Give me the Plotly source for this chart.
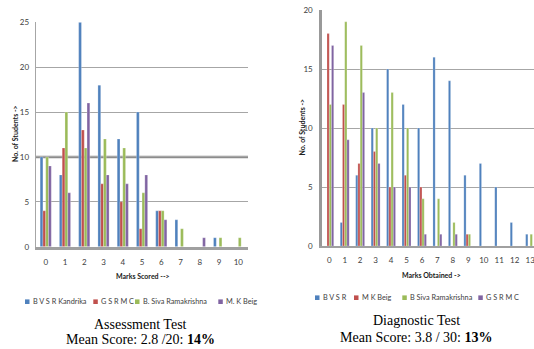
import plotly.graph_objects as go

# ---------------- data ----------------
marks_assess = [str(i) for i in range(11)]
assess_series = ["B V S R Kandrika", "G S R M C", "B. Siva Ramakrishna", "M. K Beig"]
assess_bvsr = [10, 8, 25, 18, 12, 15, 4, 3, 0, 1, 0]
assess_gsrmc = [4, 11, 13, 7, 5, 2, 4, 0, 0, 0, 0]
assess_siva = [10, 15, 11, 12, 11, 6, 4, 2, 0, 1, 1]
assess_beig = [9, 6, 16, 8, 7, 8, 3, 0, 1, 0, 0]

marks_diag = [str(i) for i in range(14)]
diag_series = ["B V S R", "M K Beig", "B Siva Ramakrishna", "G S R M C"]
diag_bvsr = [0, 2, 6, 10, 15, 12, 10, 16, 14, 6, 7, 5, 2, 1]
diag_beig = [18, 12, 7, 8, 5, 6, 5, 0, 0, 1, 0, 0, 0, 0]
diag_siva = [12, 19, 17, 10, 13, 10, 4, 4, 2, 1, 0, 0, 0, 1]
diag_gsrmc = [17, 9, 13, 7, 5, 5, 1, 1, 1, 0, 0, 0, 0, 0]

colors = ["#4F81BD", "#C0504D", "#9BBB59", "#8064A2"]

W, H = 534, 349
def px(x):
    return x / W
def py(y):
    return 1 - y / H

fig = go.Figure()
for name, vals, c in zip(assess_series, [assess_bvsr, assess_gsrmc, assess_siva, assess_beig], colors):
    fig.add_trace(go.Bar(x=marks_assess, y=vals, name=name, marker=dict(color=c, line=dict(width=0.4, color="rgba(255,255,255,0.6)")),
                         xaxis="x", yaxis="y", showlegend=False))
for name, vals, c in zip(diag_series, [diag_bvsr, diag_beig, diag_siva, diag_gsrmc], colors):
    fig.add_trace(go.Bar(x=marks_diag, y=vals, name=name, marker=dict(color=c, line=dict(width=0.4, color="rgba(255,255,255,0.6)")),
                         xaxis="x2", yaxis="y2", showlegend=False))

tickfont = dict(family="Lato, Liberation Sans, sans-serif", size=8, color="#404040")
grid = "#A6A6A6"

fig.update_layout(
    width=W, height=H, margin=dict(l=0, r=0, t=0, b=0, autoexpand=False),
    paper_bgcolor="white", plot_bgcolor="white", showlegend=False,
    barmode="group", bargap=0.42, bargroupgap=0.0,
    xaxis=dict(domain=[px(35.7), px(248)], anchor="y", type="category", range=[-0.52, 10.5],
               automargin=False,
               showgrid=False, showline=True, linecolor="#A0A0A0", linewidth=3,
               ticks="outside", ticklen=6, tickcolor="rgba(0,0,0,0)", tickfont=tickfont),
    yaxis=dict(domain=[py(246.7), py(22.3)], anchor="x", range=[0, 25], dtick=5,
               automargin=False,
               showgrid=True, gridcolor=grid, gridwidth=1.2, zeroline=False,
               showline=True, linecolor=grid, linewidth=1,
               ticks="outside", ticklen=4, tickcolor="rgba(0,0,0,0)", tickfont=tickfont),
    xaxis2=dict(domain=[px(322.3), 1], anchor="y2", type="category", range=[-0.45, 13.25],
                automargin=False,
                showgrid=False, showline=True, linecolor="#A0A0A0", linewidth=1.5,
                ticks="outside", ticklen=6, tickcolor="rgba(0,0,0,0)", tickfont=tickfont),
    yaxis2=dict(domain=[py(246), py(10)], anchor="x2", range=[0, 20], dtick=5,
                automargin=False,
                showgrid=True, gridcolor=grid, gridwidth=1.2, zeroline=False,
                showline=True, linecolor="#999999", linewidth=3,
                ticks="outside", ticklen=5, tickcolor="rgba(0,0,0,0)", tickfont=tickfont),
)

# thicker gridline at 10 on the left chart
fig.add_shape(type="line", xref="x domain", yref="y", x0=0, x1=1, y0=10, y1=10,
              line=dict(color="#8C8C8C", width=2.5), layer="below")

ann = []
axis_title_font = dict(family="Lato, Liberation Sans, sans-serif", size=7, color="#202020")
ann.append(dict(x=px(143), y=py(276), text="<b>Marks Scored --&gt;</b>", font=axis_title_font))
ann.append(dict(x=px(431), y=py(275), text="<b>Marks Obtained -&gt;</b>", font=axis_title_font))
ann.append(dict(x=px(15), y=py(134), text="<b>No. of Students -&gt;</b>", textangle=-90, font=axis_title_font))
ann.append(dict(x=px(301.5), y=py(127), text="<b>No. of Students -&gt;</b>", textangle=-90, font=axis_title_font))

serif = dict(family="Liberation Serif, Times New Roman, serif", size=14, color="black")
ann.append(dict(x=px(140.5), y=py(324), text="Assessment Test", font=serif))
ann.append(dict(x=px(140), y=py(339.5), text="Mean Score: 2.8 /20: <b>14%</b>", font=serif))
ann.append(dict(x=px(416.7), y=py(320.7), text="Diagnostic Test", font=serif))
ann.append(dict(x=px(416), y=py(337.3), text="Mean Score: 3.8 / 30: <b>13%</b>", font=serif))

# legends
leg_font = dict(family="Lato, Liberation Sans, sans-serif", size=7.3, color="#404040")
left_leg_x = [25, 93.3, 135, 218.3]
right_leg_x = [315, 354, 402.3, 478.3]
for names, xs, yc in [(assess_series, left_leg_x, 301.7), (diag_series, right_leg_x, 297.7)]:
    for name, x0, c in zip(names, xs, colors):
        fig.add_shape(type="rect", xref="paper", yref="paper",
                      x0=px(x0), x1=px(x0 + 4.5), y0=py(yc + 2.3), y1=py(yc - 2.3),
                      fillcolor=c, line=dict(width=0))
        ann.append(dict(x=px(x0 + 6), y=py(yc), text=name, xanchor="left", font=leg_font))

for a in ann:
    a.setdefault("xref", "paper")
    a.setdefault("yref", "paper")
    a.setdefault("showarrow", False)
    a.setdefault("yanchor", "middle")
    a.setdefault("xanchor", "center")
fig.update_layout(annotations=ann)

fig.write_html("out.html", config={"displayModeBar": False},
               post_script="document.body.style.margin='0';document.body.style.overflow='hidden';")
